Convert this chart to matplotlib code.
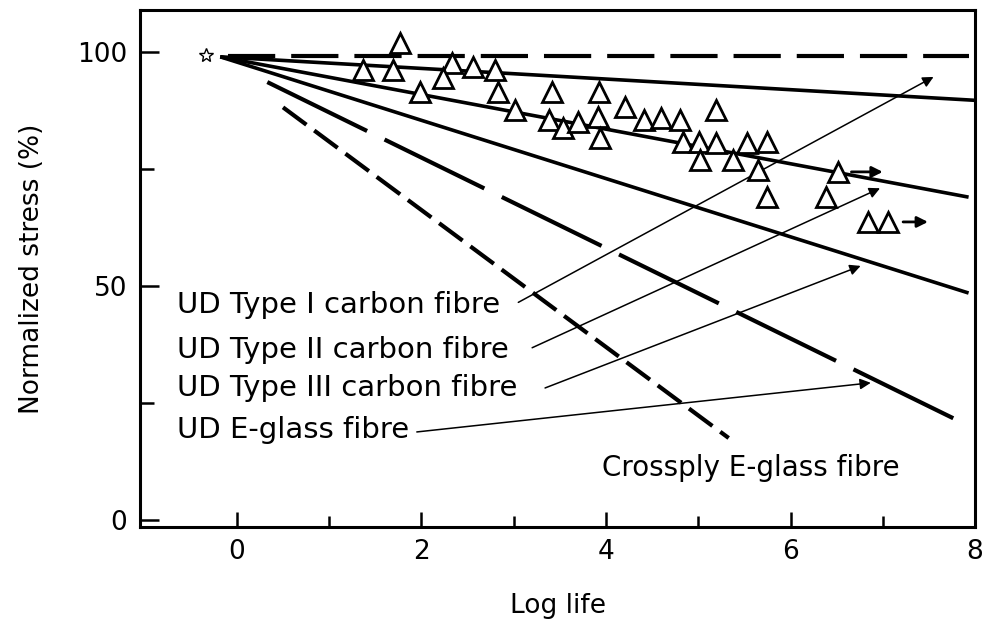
import matplotlib
matplotlib.use("Agg")
import matplotlib.pyplot as plt

# S-N trend lines for unidirectional / crossply composites (log life vs normalized stress)
line_names = ["Type I", "Type II", "Type III", "UD E-glass", "Crossply E-glass", "Static"]
line_x = [[-0.18, 8.0], [-0.18, 7.93], [-0.18, 7.93], [0.33, 7.87], [0.5, 5.33], [-0.1, 7.93]]
line_y = [[99.0, 89.7], [99.0, 69.0], [99.0, 48.5], [93.6, 20.7], [88.2, 17.5], [99.2, 99.2]]

# Type II carbon fibre test results
tri_x = [1.77, 1.37, 1.69, 2.33, 2.23, 1.98, 2.56, 2.80, 2.83, 3.01,
         3.42, 3.92, 3.38, 3.53, 3.70, 3.91, 3.93, 4.21, 4.41, 4.60,
         4.80, 5.19, 4.84, 5.01, 5.19, 5.02, 5.38, 5.53, 5.75, 5.65,
         5.75, 6.38, 6.52, 6.84, 7.06]
tri_y = [101.9, 96.2, 96.2, 97.6, 94.4, 91.5, 96.8, 96.2, 91.5, 87.6,
         91.5, 91.5, 85.5, 83.8, 85.0, 86.1, 81.6, 88.2, 85.5, 85.9,
         85.5, 87.6, 80.8, 80.8, 80.6, 76.9, 76.9, 80.6, 80.8, 74.8,
         69.0, 69.0, 74.4, 63.7, 63.7]

# run-outs (specimens that did not fail)
runout_x0 = [6.63, 7.19]
runout_x1 = [7.03, 7.52]
runout_y = [74.4, 63.7]

static_x, static_y = -0.33, 99.4

labels = ["UD Type I carbon fibre", "UD Type II carbon fibre",
          "UD Type III carbon fibre", "UD E-glass fibre"]
label_x = -0.65
label_y = [45.9, 36.3, 28.2, 19.2]
arrow_tail = [(3.05, 46.5), (3.2, 36.8), (3.34, 28.2), (1.95, 18.8)]
arrow_head = [(7.55, 94.7), (6.97, 70.9), (6.76, 54.3), (6.87, 29.3)]

plt.rcParams["lines.scale_dashes"] = False
plt.rcParams["font.family"] = ["DejaVu Sans"]
narrow = ["Liberation Sans Narrow", "DejaVu Sans"]

fig = plt.figure(figsize=(9.9, 6.28), dpi=100)
ax = fig.add_axes([0.1414, 0.161, 0.8435, 0.823])

styles = [
    dict(ls="-", lw=2.6),
    dict(ls="-", lw=2.6),
    dict(ls="-", lw=2.6),
    dict(lw=3.0, dashes=(80, 14)),
    dict(lw=3.0, dashes=(21, 7)),
    dict(lw=3.0, dashes=(34, 11.5)),
]
for xs, ys, st in zip(line_x, line_y, styles):
    ax.plot(xs, ys, color="black", solid_capstyle="butt", dash_capstyle="butt", **st)

ax.plot(tri_x, tri_y, ls="none", marker="^", ms=15, mfc="white", mec="black", mew=2.0, zorder=5)
ax.plot([static_x], [static_y], ls="none", marker="*", ms=10, mfc="white", mec="black", mew=1.0)

for x0, x1, y in zip(runout_x0, runout_x1, runout_y):
    ax.annotate("", xy=(x1, y), xytext=(x0, y),
                arrowprops=dict(arrowstyle="-|>", color="black", lw=2.0, mutation_scale=16))

for txt, y, tail, head in zip(labels, label_y, arrow_tail, arrow_head):
    ax.text(label_x, y, txt, fontsize=21, va="center", ha="left")
    ax.annotate("", xy=head, xytext=tail,
                arrowprops=dict(arrowstyle="-|>", color="black", lw=1.1, mutation_scale=16,
                                shrinkA=0, shrinkB=0))

ax.text(3.96, 11.1, "Crossply E-glass fibre", fontsize=20, va="center", ha="left")

ax.set_xlim(-1.05, 8)
ax.set_ylim(-1.5, 109)
ax.set_xticks([0, 2, 4, 6, 8])
ax.set_xticks([1, 3, 5, 7], minor=True)
ax.set_yticks([0, 50, 100])
ax.set_yticks([25, 75], minor=True)
ax.tick_params(axis="both", which="both", direction="in", width=1.8, labelsize=19)
ax.tick_params(axis="y", which="major", length=14, pad=9)
ax.tick_params(axis="y", which="minor", length=10)
ax.tick_params(axis="x", which="major", length=11, pad=9)
ax.tick_params(axis="x", which="minor", length=8)
ax.tick_params(top=False, right=False)
for lab in ax.get_xticklabels() + ax.get_yticklabels():
    lab.set_family(narrow)
for sp in ax.spines.values():
    sp.set_linewidth(2.2)

ax.set_xlabel("Log life", fontsize=19, labelpad=20, family=narrow)
ax.set_ylabel("Normalized stress (%)", fontsize=19, labelpad=23, family=narrow)

fig.savefig("out.png", dpi=100)
